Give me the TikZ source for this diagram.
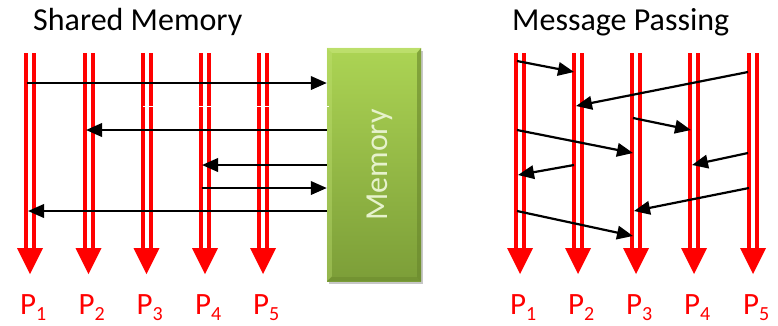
\documentclass[tikz,border=0pt]{standalone}
\usepackage{fontspec}
\setmainfont{Carlito}
\usetikzlibrary{arrows.meta,shadows}
\definecolor{pred}{RGB}{255,0,0}
\definecolor{gtop}{RGB}{172,212,84}
\definecolor{gbot}{RGB}{124,158,56}
\definecolor{glight}{RGB}{196,228,118}
\definecolor{gdark}{RGB}{104,134,44}
\definecolor{memtxt}{RGB}{230,242,204}
\newcommand{\psub}[1]{P\raisebox{-6pt}{\fontsize{20}{20}\selectfont #1}}
\begin{document}
\begin{tikzpicture}[x=1pt,y=-1pt,
  msg/.style={line width=2.2pt,-{Triangle[length=16pt,width=13.5pt]}},
  stripe/.style={pred,line width=4pt},
  phead/.style={fill=pred},
  titletext/.style={font=\fontsize{32}{38}\selectfont,anchor=base west,inner sep=0pt},
  plabel/.style={text=pred,font=\fontsize{31}{34}\selectfont,anchor=base west,inner sep=0pt},
  membox/.style={rectangle,inner sep=0pt,minimum width=94pt,minimum height=233pt,
    top color=gtop,bottom color=gbot,
    drop shadow={shadow xshift=2pt,shadow yshift=-3pt,fill=black,opacity=0.22}},
  memtext/.style={text=memtxt,font=\fontsize{32}{38}\selectfont,rotate=90,anchor=base,inner sep=0pt}
]
\useasboundingbox (0,0) rectangle (778,325);

% titles
\node[titletext] (t1) at (33,30) {Shared Memory};
\node[titletext] (t2) at (512,30) {Message Passing};

% memory box
\node[membox] (mem) at (374,164.5) {};
\fill[glight,opacity=0.7] (mem.north west) -- (mem.north east) -- ([xshift=-5pt,yshift=-5pt]mem.north east) -- ([xshift=5pt,yshift=-5pt]mem.north west) -- cycle;
\fill[glight,opacity=0.35] (mem.north west) -- ([xshift=5pt,yshift=-5pt]mem.north west) -- ([xshift=5pt,yshift=5pt]mem.south west) -- (mem.south west) -- cycle;
\fill[gdark,opacity=0.6] (mem.north east) -- (mem.south east) -- ([xshift=-4pt,yshift=4pt]mem.south east) -- ([xshift=-4pt,yshift=-5pt]mem.north east) -- cycle;
\fill[gdark,opacity=0.45] (mem.south west) -- (mem.south east) -- ([xshift=-4pt,yshift=4pt]mem.south east) -- ([xshift=5pt,yshift=4pt]mem.south west) -- cycle;
\node[memtext] (memlabel) at (387,165) {Memory};

% process lines, left panel
\foreach \i/\x in {1/30,2/88.5,3/146.5,4/205,5/263}{
  \coordinate (lp\i) at (\x,53);
  \draw[stripe] ([xshift=-4pt]lp\i) -- ++(0,195.5);
  \draw[stripe] ([xshift=4pt]lp\i) -- ++(0,195.5);
  \fill[phead] ([xshift=-13pt,yshift=-195pt]lp\i) -- ([xshift=13pt,yshift=-195pt]lp\i) -- ([yshift=-221pt]lp\i) -- cycle;
  \node[plabel] (lpl\i) at (\x-10,314) {\psub{\i}};
}
% process lines, right panel
\foreach \i/\x in {1/520,2/578,3/636,4/694,5/753}{
  \coordinate (rp\i) at (\x,53);
  \draw[stripe] ([xshift=-4pt]rp\i) -- ++(0,195.5);
  \draw[stripe] ([xshift=4pt]rp\i) -- ++(0,195.5);
  \fill[phead] ([xshift=-13pt,yshift=-195pt]rp\i) -- ([xshift=13pt,yshift=-195pt]rp\i) -- ([yshift=-221pt]rp\i) -- cycle;
  \node[plabel] (rpl\i) at (\x-10,314) {\psub{\i}};
}

% white gap artifact
\draw[white,line width=1.5pt] (143,106.5) -- (329,106.5);

% shared memory arrows
\coordinate (a1) at (27,83);
\coordinate (a2) at (86,130);
\coordinate (a3) at (202,165);
\coordinate (a4) at (202,188);
\coordinate (a5) at (28,211);
\draw[msg] (a1) -- (mem.west |- a1);
\draw[msg] (mem.west |- a2) -- (a2);
\draw[msg] (mem.west |- a3) -- (a3);
\draw[msg] (a4) -- (mem.west |- a4);
\draw[msg] (mem.west |- a5) -- (a5);

% message passing arrows
\coordinate (m1s) at (517,61);  \coordinate (m1e) at (574,72);
\coordinate (m2s) at (748,72);  \coordinate (m2e) at (576,106);
\coordinate (m3s) at (633,118); \coordinate (m3e) at (691,130);
\coordinate (m4s) at (517,130); \coordinate (m4e) at (633,153);
\coordinate (m5s) at (748,153); \coordinate (m5e) at (692,165);
\coordinate (m6s) at (574,165); \coordinate (m6e) at (518,175);
\coordinate (m7s) at (749,188); \coordinate (m7e) at (634,211);
\coordinate (m8s) at (517,211); \coordinate (m8e) at (633,236);
\foreach \k in {1,...,8}{\draw[msg] (m\k s) -- (m\k e);}
\end{tikzpicture}
\end{document}
